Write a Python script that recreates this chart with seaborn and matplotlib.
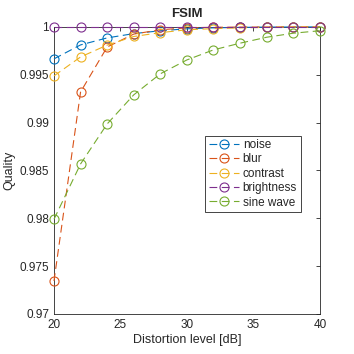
import pandas as pd
import matplotlib
matplotlib.use("Agg")
import matplotlib.pyplot as plt
import seaborn as sns
from matplotlib.ticker import FuncFormatter

# distortion levels in dB
levels = [20, 22, 24, 26, 28, 30, 32, 34, 36, 38, 40]

noise = [0.99666, 0.99812, 0.99885, 0.99930, 0.99960, 0.99980, 0.99990, 0.99995, 0.99998, 0.99999, 1.0]
blur = [0.97345, 0.99320, 0.99790, 0.99925, 0.99970, 0.99990, 0.99996, 0.99998, 0.99999, 1.0, 1.0]
contrast = [0.99488, 0.99686, 0.99810, 0.99900, 0.99940, 0.99970, 0.99982, 0.99990, 0.99995, 0.99998, 0.99999]
brightness = [1.0, 1.0, 1.0, 1.0, 1.0, 1.0, 1.0, 1.0, 1.0, 1.0, 1.0]
sine_wave = [0.97990, 0.98568, 0.98986, 0.99290, 0.99510, 0.99655, 0.99760, 0.99830, 0.99892, 0.99934, 0.99960]

series = {
    'noise': noise,
    'blur': blur,
    'contrast': contrast,
    'brightness': brightness,
    'sine wave': sine_wave,
}
colors = ['#0072BD', '#D95319', '#EDB120', '#7E2F8E', '#77AC30']

sns.set_style('white')
plt.rcParams['font.family'] = ['Liberation Sans', 'DejaVu Sans']

fig = plt.figure(figsize=(3.54, 3.54), dpi=100)
ax = fig.add_axes([0.1525, 0.113, 0.751, 0.811])

for (name, vals), c in zip(series.items(), colors):
    df = pd.DataFrame({'level': levels, 'quality': vals})
    sns.lineplot(data=df, x='level', y='quality', ax=ax, color=c, label=name,
                 linestyle=(0, (7, 4)), linewidth=0.8, marker='o', markersize=6.5,
                 markerfacecolor='none', markeredgecolor=c, markeredgewidth=0.8,
                 clip_on=False, zorder=3)

ax.set_xlim(20, 40)
ax.set_ylim(0.97, 1.0)
ax.set_xticks([20, 25, 30, 35, 40])
ax.set_yticks([0.97, 0.975, 0.98, 0.985, 0.99, 0.995, 1.0])
ax.yaxis.set_major_formatter(FuncFormatter(lambda v, p: '%g' % round(v, 4)))
ax.tick_params(direction='in', length=3, width=0.6, labelsize=8.5, colors='#262626',
               top=True, right=True)
for s in ax.spines.values():
    s.set_linewidth(0.6)
    s.set_color('#262626')

ax.set_xlabel('Distortion level [dB]', fontsize=9, color='#262626', labelpad=2)
ax.set_ylabel('Quality', fontsize=9, color='#262626', labelpad=3)
ax.set_title('FSIM', fontsize=9.5, fontweight='bold', pad=7)

leg = ax.legend(loc='lower left', bbox_to_anchor=(0.568, 0.355), fontsize=8.5,
                frameon=True, fancybox=False, edgecolor='#262626', framealpha=1,
                handlelength=2.6, borderpad=0.3, labelspacing=0.2, handletextpad=0.3,
                borderaxespad=0)
leg.get_frame().set_linewidth(0.6)

fig.savefig('out.png', dpi=100)
